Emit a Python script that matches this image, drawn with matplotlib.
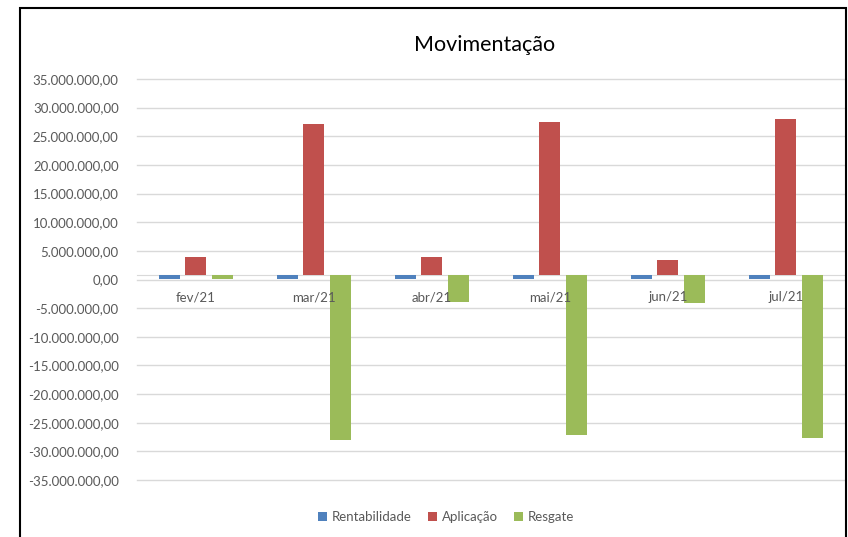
import numpy as np
import matplotlib.pyplot as plt
from matplotlib.patches import Rectangle
from matplotlib.ticker import FuncFormatter

# data (values in R$)
meses = ["fev/21", "mar/21", "abr/21", "mai/21", "jun/21", "jul/21"]
rentabilidade = [50000, 50000, 50000, 50000, 50000, 50000]
aplicacao = [4000000, 27100000, 4000000, 27500000, 3400000, 28000000]
resgate = [50000, -27950000, -3900000, -27200000, -4050000, -27700000]

series = ["Rentabilidade", "Aplicação", "Resgate"]
cores = ["#4F81BD", "#C0504D", "#9BBB59"]

# horizontal axis crosses a bit above zero in the original chart
eixo_x = 870000

plt.rcParams['font.family'] = ['Lato', 'DejaVu Sans']

fig = plt.figure(figsize=(8.48, 5.37), dpi=100)
ax = fig.add_axes([136.7 / 848, 57 / 537, (845 - 136.7) / 848, 401 / 537])

x = np.arange(len(meses))
largura = 0.178
passo = 0.224
for i, (nome, vals) in enumerate(zip(series, [rentabilidade, aplicacao, resgate])):
    alturas = [v - eixo_x for v in vals]
    ax.bar(x + (i - 1) * passo, alturas, largura, bottom=eixo_x,
           color=cores[i], label=nome, zorder=3)

ax.set_xlim(-0.5, len(meses) - 0.5)
ax.set_ylim(-35000000, 35000000)
ax.set_yticks(np.arange(-35000000, 35000001, 5000000))


def fmt_br(v, pos):
    s = f"{v:,.2f}"
    return s.replace(",", "X").replace(".", ",").replace("X", ".")


ax.yaxis.set_major_formatter(FuncFormatter(fmt_br))
ax.grid(axis='y', color='#D9D9D9', linewidth=1)
ax.set_axisbelow(True)
for gl in ax.get_ygridlines():
    gl.set_clip_on(False)

for s in ['top', 'right', 'left']:
    ax.spines[s].set_visible(False)
ax.spines['bottom'].set_position(('data', eixo_x))
ax.spines['bottom'].set_color('#D9D9D9')
ax.spines['bottom'].set_zorder(2)

ax.set_xticks(x)
ax.set_xticklabels(meses)
ax.tick_params(axis='x', length=0, pad=12, labelsize=9.5, labelcolor='#595959')
ax.tick_params(axis='y', length=0, pad=13, labelsize=9.5, labelcolor='#595959')
# month labels are drawn on top of the bars, as in the original
ax.xaxis.set_zorder(5)

fig.text(485 / 848, 1 - 45 / 537, "Movimentação", ha='center', va='center',
         fontsize=15.5, color='#000000')

fig.legend(loc='center', bbox_to_anchor=(446 / 848, 1 - 517 / 537), ncol=3,
           frameon=False, fontsize=9.5, labelcolor='#595959',
           handlelength=0.7, handleheight=0.7, handletextpad=0.35,
           columnspacing=1.2)

# chart border
fig.patches.append(Rectangle((20 / 848, -0.05), (846 - 20) / 848, 1.05 - 8 / 537,
                             transform=fig.transFigure, fill=False,
                             edgecolor='#000000', linewidth=1.5))

fig.savefig("out.png", dpi=100)
